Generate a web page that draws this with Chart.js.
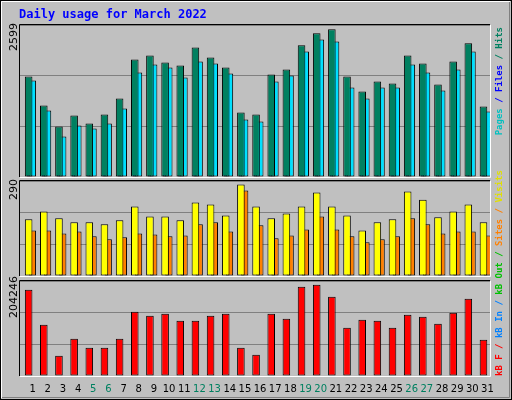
<!DOCTYPE html>
<html><head><meta charset="utf-8">
<script src="https://cdn.jsdelivr.net/npm/chart.js@4"></script>
<style>html,body{margin:0;padding:0;background:#c0c0c0}#w{position:relative;width:512px;height:400px}canvas{position:absolute;left:0;top:0}</style>
</head><body><div id="w"><canvas id="c1" width="512" height="400"></canvas><canvas id="c2" width="512" height="400"></canvas><canvas id="c3" width="512" height="400"></canvas></div>
<script>
const days=["1","2","3","4","5","6","7","8","9","10","11","12","13","14","15","16","17","18","19","20","21","22","23","24","25","26","27","28","29","30","31"];
const weekend=["5","6","12","13","19","20","26","27"];
const hits=[1719,1222,862,1051,914,1068,1342,2011,2079,1959,1908,2216,2045,1874,1102,1068,1754,1839,2251,2456,2525,1719,1462,1634,1599,2079,1942,1582,1976,2285,1205];
const files=[1651,1137,691,880,828,914,1171,1788,1925,1874,1702,1976,1942,1771,982,948,1634,1736,2148,2353,2319,1531,1342,1531,1531,1925,1788,1479,1839,2148,1120];
const pages=[1479,948,486,794,657,760,1000,1616,1719,1685,1582,1668,1651,1565,623,691,1531,1497,1925,2113,1908,1342,1257,1359,1308,1599,1514,1274,1582,1942,931];
const visits=[173,197,176,164,164,158,170,212,182,182,170,224,218,185,279,212,176,191,212,255,212,185,139,164,173,258,233,179,197,218,164];
const sites=[139,139,130,136,121,112,118,130,127,121,124,158,164,136,261,155,115,124,142,182,142,121,103,112,121,176,158,130,136,136,124];
const kbF=[185600,110400,43700,80300,60900,60900,80300,138300,129700,134000,119000,119000,129700,134000,60900,45900,134000,123300,192100,196400,170600,103900,121100,119000,103900,131900,127600,112500,136200,166300,78100];
const maxHits=2599, maxVisits=290, maxKB=204246;

const L=20,R=490;
function pts(arr){return arr.map((v,i)=>({x:i+1,y:v}));}
function xAxis(shift){return {type:'linear',display:false,offset:false,bounds:'ticks',min:0.5-shift,max:31.5-shift};}
function ds(label,arr,color,axis,w){return {label,data:pts(arr),backgroundColor:color,borderColor:'#000',borderWidth:1,xAxisID:axis,barPercentage:w,categoryPercentage:1,grouped:false,borderSkipped:false};}
function yAxis(max){return {min:0,max:max,ticks:{display:false,stepSize:max/3},grid:{color:'#808080',drawTicks:false},border:{display:false}};}
function frame(ch){const a=ch.chartArea,c=ch.ctx;c.save();c.lineWidth=1;
 c.strokeStyle='#000';c.beginPath();c.moveTo(a.left-0.5,a.bottom);c.lineTo(a.left-0.5,a.top-0.5);c.lineTo(a.right,a.top-0.5);c.stroke();
 c.strokeStyle='#fff';c.beginPath();c.moveTo(a.right+0.5,a.top);c.lineTo(a.right+0.5,a.bottom+0.5);c.lineTo(a.left,a.bottom+0.5);c.stroke();c.restore();}
function rot(c,text,x,y,color,font){c.save();c.translate(x,y);c.rotate(-Math.PI/2);c.font=font;c.fillStyle=color;c.textBaseline='middle';c.textAlign='left';c.fillText(text,0,0);c.restore();}
function rotSeq(c,parts,x,yStart,font,fromTop){c.save();c.font=font;let tot=parts.reduce((s,p)=>s+c.measureText(p[0]).width,0);c.restore();
 let y=fromTop?yStart+tot:yStart;c.save();c.font=font;for(const p of parts){rot(c,p[0],x,y,p[1],font);y-=c.measureText(p[0]).width;}c.restore();}
const bg={id:'bg',beforeDraw(ch){const c=ch.ctx;c.save();c.fillStyle='#c0c0c0';c.fillRect(0,0,512,400);
 c.strokeStyle='#000';c.lineWidth=1;c.strokeRect(0.5,0.5,511,399);c.strokeStyle='#fff';c.beginPath();c.moveTo(1.5,398);c.lineTo(1.5,1.5);c.lineTo(510,1.5);c.stroke();
 c.strokeStyle='#808080';c.beginPath();c.moveTo(2,397.5);c.lineTo(509.5,397.5);c.lineTo(509.5,2);c.stroke();
 c.fillStyle='#0000ff';c.font='bold 12px "DejaVu Sans Mono"';c.textBaseline='middle';c.fillText('Daily usage for March 2022',19,15);c.restore();}};
const fr={id:'fr',afterDraw:frame};
const mono='bold 9px "DejaVu Sans Mono"', sans='11px "DejaVu Sans"';
function mk(id,top,bottom,datasets,scales,extra){return new Chart(document.getElementById(id),{type:'bar',data:{datasets},
 options:{responsive:false,animation:false,events:[],layout:{padding:{left:L,right:512-R,top:top,bottom:400-bottom}},
 plugins:{legend:{display:false},tooltip:{enabled:false}},scales},plugins:extra});}

mk('c1',25,177,[ds('Hits',hits,'#008060','xh',0.5),ds('Pages',pages,'#0000ff','xp',0.2),ds('Files',files,'#00e0ff','xf',0.48)],
 {xh:xAxis(0.07),xp:xAxis(0.03),xf:xAxis(0.32),y:yAxis(maxHits)},
 [bg,fr,{id:'t1',afterDraw(ch){const c=ch.ctx;rot(c,'2599',14,51,'#000',sans);
  rotSeq(c,[['Pages','#00c0c0'],[' / ','#0000ff'],['Files','#0000ff'],[' / ','#008060'],['Hits','#008060']],500,27,mono,true);}}]);
mk('c2',181,276,[ds('Visits',visits,'#ffff00','xv',0.5),ds('Sites',sites,'#ff8000','xs',0.48)],
 {xv:xAxis(0.07),xs:xAxis(0.32),y:yAxis(maxVisits)},
 [fr,{id:'t2',afterDraw(ch){const c=ch.ctx;rot(c,'290',14,200,'#000',sans);}}]);
mk('c3',281,376,[ds('kB F',kbF,'#ff0000','xk',0.5)],
 {xk:xAxis(0.07),y:yAxis(maxKB)},
 [fr,{id:'t3',afterDraw(ch){const c=ch.ctx;rot(c,'204246',14,318,'#000',sans);
  rotSeq(c,[['kB F','#ff0000'],[' / ','#ff0000'],['kB In','#0080ff'],[' / ','#0080ff'],['kB Out','#00c000'],[' / ','#00c000'],['Sites','#ff8000'],[' / ','#ff8000'],['Visits','#e0e000']],500,376,mono,false);
  const xs=ch.scales.xk;c.save();c.font='10px "DejaVu Sans"';c.textAlign='center';c.textBaseline='middle';
  days.forEach((d,i)=>{c.fillStyle=weekend.includes(d)?'#008060':'#000';c.fillText(d,xs.getPixelForValue(i+1)+4,389);});c.restore();}}]);
</script></body></html>
